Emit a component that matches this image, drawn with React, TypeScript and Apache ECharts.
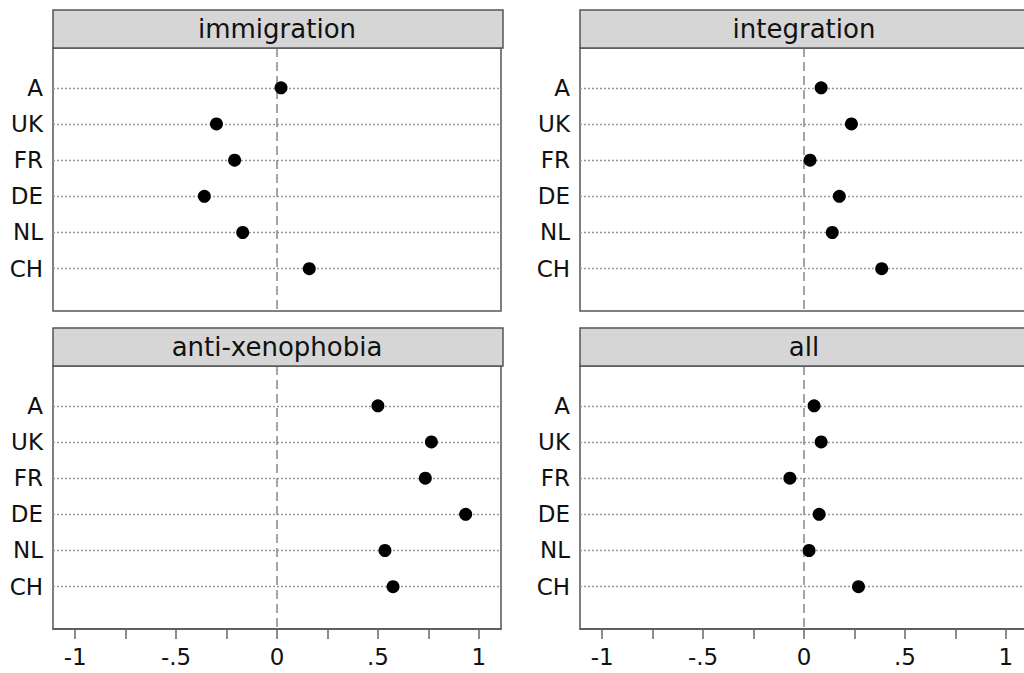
import React, { useEffect, useRef } from "react";
import * as echarts from "echarts";

const categories = ["A", "UK", "FR", "DE", "NL", "CH"];
const panelTitles = ["immigration", "integration", "anti-xenophobia", "all"];
const immigration = [0.02, -0.3, -0.21, -0.36, -0.17, 0.16];
const integration = [0.085, 0.235, 0.03, 0.175, 0.14, 0.385];
const antiXenophobia = [0.5, 0.765, 0.735, 0.935, 0.535, 0.575];
const all = [0.05, 0.085, -0.07, 0.075, 0.025, 0.27];
const xTicks = [-1, -0.75, -0.5, -0.25, 0, 0.25, 0.5, 0.75, 1];
const xLabels = [-1, -0.5, 0, 0.5, 1];

const panelValues = [immigration, integration, antiXenophobia, all];

const FONT = "DejaVu Sans";

export default function App() {
  const ref = useRef<HTMLDivElement>(null);
  useEffect(() => {
    if (!ref.current) return;
    const chart = echarts.init(ref.current, undefined, { renderer: "svg" });
    const lefts = [53, 580, 53, 580];
    const tops = [48, 48, 366, 366];
    const W = 448;
    const H = 263;
    const grids = lefts.map((l, i) => ({
      left: l,
      top: tops[i],
      width: W,
      height: H,
      show: true,
      borderColor: "#555",
      borderWidth: 1.5,
      backgroundColor: "transparent",
      containLabel: false,
      outerBoundsMode: "none",
    }));
    const fmt = (v: number) => {
      if (v === 0) return "0";
      if (v === 1) return "1";
      if (v === -1) return "-1";
      return String(v).replace("0.", ".");
    };
    const xAxes = lefts.map((_, i) => {
      const bottom = i >= 2;
      return {
        type: "value",
        gridIndex: i,
        min: -1.11,
        max: 1.11,
        splitLine: { show: false },
        axisLine: { show: bottom, onZero: false, lineStyle: { color: "#555", width: 1.5 } },
        axisTick: {
          show: bottom,
          customValues: xTicks,
          length: 10,
          lineStyle: { color: "#666", width: 1.5 },
        },
        axisLabel: {
          show: bottom,
          customValues: xLabels,
          formatter: fmt,
          fontFamily: FONT,
          fontSize: 23,
          color: "#111",
          margin: 16,
        },
      };
    });
    const yAxes = lefts.map((_, i) => ({
      type: "value",
      gridIndex: i,
      inverse: true,
      min: -0.1,
      max: 7.17,
      splitLine: { show: false },
      axisLine: { show: false },
      axisTick: { show: false, customValues: categories.map((_, k) => k + 1) },
      axisLabel: {
        customValues: categories.map((_, k) => k + 1),
        formatter: (v: number) => categories[Math.round(v) - 1] ?? "",
        fontFamily: FONT,
        fontSize: 23,
        color: "#111",
        margin: 10,
      },
    }));
    const series: any[] = [];
    panelValues.forEach((vals, i) => {
      series.push({
        type: "scatter",
        xAxisIndex: i,
        yAxisIndex: i,
        data: [],
        z: 1,
        silent: true,
        markLine: {
          silent: true,
          z: 1,
          symbol: ["none", "none"],
          label: { show: false },
          data: [
            ...categories.map((_, k) => ({
              yAxis: k + 1,
              lineStyle: { type: [2, 2], color: "#999", width: 1.3 },
            })),
            { xAxis: 0, lineStyle: { type: [9, 5], color: "#888", width: 1.5 } },
          ],
        },
      });
      series.push({
        type: "scatter",
        xAxisIndex: i,
        yAxisIndex: i,
        z: 8,
        symbolSize: 13,
        itemStyle: { color: "#000", opacity: 1 },
        data: vals.map((v, k) => [v, k + 1]),
      });
    });
    const graphics: any[] = [];
    lefts.forEach((l, i) => {
      const hy = tops[i] - 38;
      graphics.push({
        type: "rect",
        shape: { x: l, y: hy, width: W + 2, height: 38 },
        style: { fill: "#d6d6d6", stroke: "#555", lineWidth: 1.5 },
        z: 10,
      });
      graphics.push({
        type: "text",
        x: l + W / 2,
        y: hy + 19,
        style: {
          text: panelTitles[i],
          fontFamily: FONT,
          fontSize: 26,
          fill: "#111",
          align: "center",
          verticalAlign: "middle",
        },
        z: 11,
      });
    });
    chart.setOption({
      animation: false,
      backgroundColor: "#fff",
      grid: grids,
      xAxis: xAxes,
      yAxis: yAxes,
      series,
      graphic: graphics,
    });
    return () => chart.dispose();
  }, []);
  return (
    <div
      ref={ref}
      style={{ position: "fixed", left: 0, top: 0, width: 1040, height: 673 }}
    />
  );
}
